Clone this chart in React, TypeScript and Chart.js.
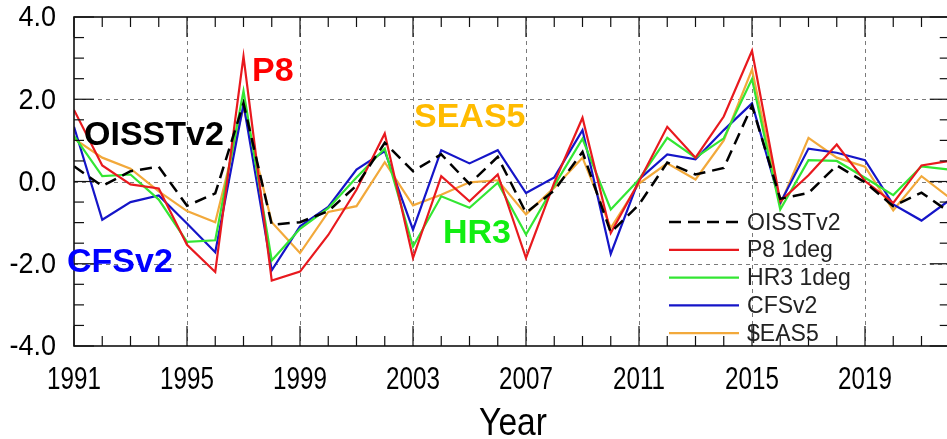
import React, { useEffect, useRef } from "react";
import { Chart, registerables } from "chart.js";

Chart.register(...registerables);

const years = [
  1991, 1992, 1993, 1994, 1995, 1996, 1997, 1998, 1999, 2000, 2001, 2002, 2003, 2004, 2005, 2006,
  2007, 2008, 2009, 2010, 2011, 2012, 2013, 2014, 2015, 2016, 2017, 2018, 2019, 2020, 2021, 2022,
];
const oisst = [
  0.37, -0.11, 0.25, 0.36, -0.59, -0.29, 1.9, -1.05, -0.99, -0.72, -0.1, 0.94, 0.25, 0.66, -0.06, 0.6,
  -0.76, -0.22, 0.72, -1.24, -0.56, 0.46, 0.17, 0.33, 1.84, -0.42, -0.28, 0.39, -0.02, -0.6, -0.27, -0.75,
];
const p8 = [
  1.74, 0.39, -0.07, -0.17, -1.54, -2.2, 3.04, -2.41, -2.19, -1.3, -0.2, 1.17, -1.86, 0.13, -0.48, 0.17,
  -1.86, -0.03, 1.55, -1.25, 0.0, 1.33, 0.58, 1.58, 3.18, -0.48, 0.15, 0.9, 0.01, -0.52, 0.39, 0.5,
];
const hr3 = [
  1.11, 0.13, 0.17, -0.44, -1.47, -1.43, 2.2, -1.92, -1.15, -0.65, 0.1, 0.8, -1.58, -0.36, -0.64, -0.03,
  -1.29, -0.1, 1.04, -0.68, 0.05, 1.06, 0.58, 1.05, 2.49, -0.68, 0.52, 0.5, 0.09, -0.33, 0.37, 0.29,
];
const cfsv2 = [
  1.33, -0.93, -0.5, -0.34, -1.02, -1.72, 1.88, -2.16, -1.09, -0.62, 0.29, 0.74, -1.17, 0.76, 0.44, 0.76,
  -0.28, 0.1, 1.25, -1.76, 0.05, 0.66, 0.54, 1.25, 1.9, -0.52, 0.8, 0.7, 0.52, -0.56, -0.95, -0.45,
];
const seas5 = [
  1.04, 0.58, 0.31, -0.24, -0.72, -0.99, 1.8, -0.99, -1.74, -0.74, -0.6, 0.47, -0.58, -0.32, -0.02, 0.03,
  -0.8, -0.15, 0.58, -1.13, -0.05, 0.44, 0.05, 1.0, 2.72, -0.56, 1.06, 0.58, 0.36, -0.7, 0.13, -0.4,
];

const seriesNames = ["OISSTv2", "P8 1deg", "HR3 1deg", "CFSv2", "$EAS5"];
const seriesColors = ["#000000", "#e8191e", "#33e633", "#1515c8", "#f2a93b"];

const yMajorTicks = [-4, -2, 0, 2, 4];
const yTickLabels = ["-4.0", "-2.0", "0.0", "2.0", "4.0"];
const yMinorTicks = [-3.5, -3, -2.5, -1.5, -1, -0.5, 0.5, 1, 1.5, 2.5, 3, 3.5];
const xMajorTicks = [1991, 1995, 1999, 2003, 2007, 2011, 2015, 2019];
const xTickLabels = ["1991", "1995", "1999", "2003", "2007", "2011", "2015", "2019"];
const xTitle = "Year";

const annotations = [
  { text: "P8", color: "#ff0000", x: 252, y: 72 },
  { text: "OISSTv2", color: "#000000", x: 84, y: 136 },
  { text: "SEAS5", color: "#ffbb00", x: 414, y: 118 },
  { text: "HR3", color: "#11ee11", x: 443, y: 234 },
  { text: "CFSv2", color: "#0000ff", x: 67, y: 263 },
];

const FONT = "'Liberation Sans', Arial, Helvetica, sans-serif";

function drawText(
  ctx: CanvasRenderingContext2D,
  text: string,
  x: number,
  y: number,
  font: string,
  color: string,
  align: CanvasTextAlign,
  sx: number
) {
  ctx.save();
  ctx.font = font;
  ctx.fillStyle = color;
  ctx.textBaseline = "middle";
  ctx.textAlign = align;
  ctx.translate(x, y);
  ctx.scale(sx, 1);
  ctx.fillText(text, 0, 0);
  ctx.restore();
}

function seg(ctx: CanvasRenderingContext2D, x1: number, y1: number, x2: number, y2: number) {
  ctx.beginPath();
  ctx.moveTo(x1, y1);
  ctx.lineTo(x2, y2);
  ctx.stroke();
}

const nclPlugin = {
  id: "nclStyle",
  beforeDatasetsDraw(chart: any) {
    const { ctx, chartArea: a, scales } = chart;
    const xs = scales.x;
    const ys = scales.y;
    ctx.save();
    ctx.strokeStyle = "#7a7a7a";
    ctx.lineWidth = 1;
    ctx.setLineDash([4, 4]);
    for (const v of yMajorTicks) {
      if (v === -4 || v === 4) continue;
      const py = Math.round(ys.getPixelForValue(v)) + 0.5;
      seg(ctx, a.left, py, a.right, py);
    }
    for (const yr of xMajorTicks) {
      if (yr === 1991) continue;
      const px = Math.round(xs.getPixelForValue(yr)) + 0.5;
      seg(ctx, px, a.top, px, a.bottom);
    }
    ctx.restore();
  },
  afterDatasetsDraw(chart: any) {
    const { ctx, chartArea: a, scales } = chart;
    const xs = scales.x;
    const ys = scales.y;
    ctx.save();
    ctx.strokeStyle = "#111";
    ctx.lineWidth = 1.6;
    ctx.setLineDash([]);
    ctx.strokeRect(a.left, a.top, a.right - a.left, a.bottom - a.top);
    ctx.lineWidth = 1.2;
    for (const yr of years) {
      const px = xs.getPixelForValue(yr);
      const len = xMajorTicks.includes(yr) ? 20 : 10;
      seg(ctx, px, a.bottom, px, a.bottom - len);
      seg(ctx, px, a.top, px, a.top + len);
    }
    for (const v of yMajorTicks) {
      const py = ys.getPixelForValue(v);
      seg(ctx, a.left, py, a.left + 20, py);
      seg(ctx, a.right, py, a.right - 20, py);
    }
    for (const v of yMinorTicks) {
      const py = ys.getPixelForValue(v);
      seg(ctx, a.left, py, a.left + 10, py);
      seg(ctx, a.right, py, a.right - 10, py);
    }
    ctx.restore();

    yMajorTicks.forEach((v, i) => {
      drawText(ctx, yTickLabels[i], a.left - 18, ys.getPixelForValue(v) + 1, `30px ${FONT}`, "#000", "right", 0.9);
    });
    xMajorTicks.forEach((yr, i) => {
      drawText(ctx, xTickLabels[i], xs.getPixelForValue(yr), 380, `31px ${FONT}`, "#000", "center", 0.78);
    });
    drawText(ctx, xTitle, 513, 424, `39px ${FONT}`, "#000", "center", 0.86);

    for (const an of annotations) {
      drawText(ctx, an.text, an.x, an.y, `bold 34px ${FONT}`, an.color, "left", 1);
    }

    const ds = chart.data.datasets;
    ds.forEach((d: any, i: number) => {
      const ly = 222 + i * 27.8;
      ctx.save();
      ctx.strokeStyle = d.borderColor;
      ctx.lineWidth = d.borderWidth;
      ctx.setLineDash(d.borderDash || []);
      seg(ctx, 669, ly, 739, ly);
      ctx.restore();
      drawText(ctx, d.label, 747, ly + 1, `24px ${FONT}`, "#222", "left", 0.96);
    });
  },
};

export default function App() {
  const ref = useRef<HTMLCanvasElement | null>(null);
  useEffect(() => {
    if (!ref.current) return;
    const all = [oisst, p8, hr3, cfsv2, seas5];
    const chart = new Chart(ref.current, {
      type: "line",
      data: {
        datasets: all.map((vals, i) => ({
          label: seriesNames[i],
          data: years.map((yr, j) => ({ x: yr, y: vals[j] })),
          borderColor: seriesColors[i],
          backgroundColor: seriesColors[i],
          borderWidth: i === 0 ? 2.5 : 2.2,
          borderDash: i === 0 ? [12, 7] : [],
          pointRadius: 0,
          tension: 0,
          fill: false,
        })),
      },
      options: {
        animation: false,
        responsive: false,
        layout: { padding: { left: 74, top: 17, right: 10.25, bottom: 93 } },
        plugins: { legend: { display: false }, tooltip: { enabled: false } },
        scales: {
          x: { type: "linear", min: 1991, max: 2022, display: false },
          y: { type: "linear", min: -4, max: 4, display: false },
        },
      },
      plugins: [nclPlugin],
    });
    return () => chart.destroy();
  }, []);
  return (
    <div style={{ position: "fixed", left: 0, top: 0, width: 960, height: 439, background: "#fff" }}>
      <canvas ref={ref} width={960} height={439} style={{ display: "block" }} />
    </div>
  );
}
